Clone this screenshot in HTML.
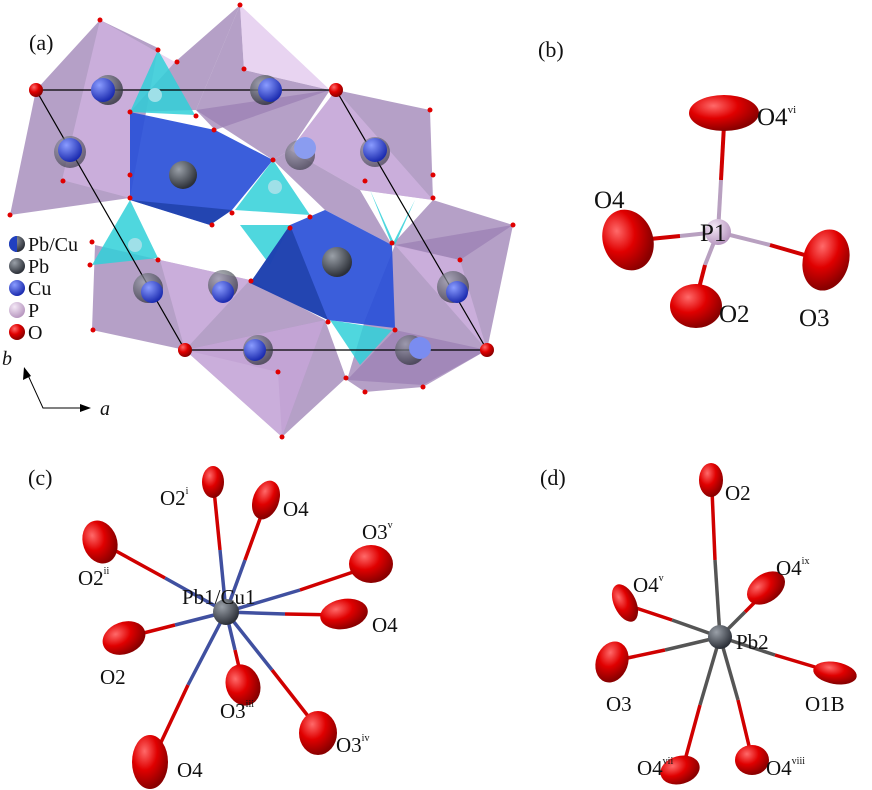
<!DOCTYPE html>
<html><head><meta charset="utf-8"><style>
body{margin:0;background:#fff}
svg{display:block}
text{font-family:"Liberation Serif",serif;fill:#111}
</style></head><body>
<svg width="872" height="790" viewBox="0 0 872 790" xmlns="http://www.w3.org/2000/svg">
<defs>
<radialGradient id="r" cx="35%" cy="30%" r="70%"><stop offset="0" stop-color="#ff6a6a"/><stop offset="0.5" stop-color="#e00000"/><stop offset="1" stop-color="#8a0000"/></radialGradient>
<radialGradient id="g" cx="35%" cy="30%" r="70%"><stop offset="0" stop-color="#9aa0a8"/><stop offset="1" stop-color="#2c3038"/></radialGradient>
<radialGradient id="bl" cx="35%" cy="30%" r="70%"><stop offset="0" stop-color="#8a9cff"/><stop offset="1" stop-color="#1c2cb0"/></radialGradient>
<radialGradient id="pp" cx="35%" cy="30%" r="70%"><stop offset="0" stop-color="#f4e8f6"/><stop offset="1" stop-color="#b898c0"/></radialGradient>
</defs>
<!-- panel a -->
<g stroke="none">
<g fill="#9c80b4" fill-opacity="0.75">
<polygon points="100,20 36,90 10,215 130,198 158,48"/>
<polygon points="240,5 196,110 215,130 330,90 244,70"/>
<polygon points="175,62 240,5 196,110 130,112"/>
<polygon points="196,110 273,160 290,150 330,90"/>
<polygon points="290,150 360,190 392,245 325,210 273,160"/>
<polygon points="336,90 430,110 433,200 360,190 290,150"/>
<polygon points="433,200 392,245 460,260 513,225"/>
<polygon points="160,260 95,245 92,330 185,350 282,437 325,320 250,280"/>
<polygon points="185,350 278,372 282,437 346,378 325,320"/>
<polygon points="395,245 513,225 487,350 423,385 347,380 365,320"/>
<polygon points="347,380 365,392 423,387 487,350 395,330"/>
</g>
<g fill="#d8b8e8" fill-opacity="0.6">
<polygon points="100,20 175,62 130,112 130,198 62,180"/>
<polygon points="240,5 330,90 244,70"/>
<polygon points="290,150 336,90 433,200 360,190"/>
<polygon points="160,260 250,280 185,350"/>
<polygon points="185,350 282,437 325,320"/>
<polygon points="395,245 487,350 460,260"/>
</g>
<g fill="#30d0d8" fill-opacity="0.85">
<polygon points="158,50 195,115 130,112"/>
<polygon points="273,160 310,215 235,210"/>
<polygon points="130,200 92,265 158,258"/>
<polygon points="240,225 290,225 270,265"/>
<polygon points="392,245 415,200 395,245 370,190"/>
<polygon points="330,320 392,330 360,365"/>
</g>
<g fill="#2a50d8" fill-opacity="0.92">
<polygon points="130,112 215,130 273,160 232,210 210,225 130,200"/>
<polygon points="290,225 325,210 392,245 395,328 328,320 250,283"/>
</g>
<g fill="#1a3aa0" fill-opacity="0.7">
<polygon points="130,200 232,210 210,225"/>
<polygon points="250,283 328,320 290,225"/>
</g>
</g>
<g stroke="#000" stroke-width="1.2" fill="none"><polygon points="36,90 336,90 487,350 185,350"/></g>
<g>
<circle cx="108" cy="90" r="15" fill="url(#g)" opacity="0.8"/><circle cx="103" cy="90" r="12" fill="url(#bl)"/>
<circle cx="265" cy="90" r="15" fill="url(#g)" opacity="0.8"/><circle cx="270" cy="90" r="12" fill="url(#bl)"/>
<circle cx="70" cy="152" r="16" fill="url(#g)" opacity="0.6"/><circle cx="70" cy="150" r="12" fill="url(#bl)"/>
<circle cx="183" cy="175" r="14" fill="url(#g)"/>
<circle cx="300" cy="155" r="15" fill="url(#g)" opacity="0.6"/><circle cx="305" cy="148" r="11" fill="#8a9cf0"/>
<circle cx="375" cy="152" r="15" fill="url(#g)" opacity="0.6"/><circle cx="375" cy="150" r="12" fill="url(#bl)"/>
<circle cx="155" cy="95" r="7" fill="#9fe0e8"/><circle cx="275" cy="187" r="7" fill="#9fe0e8"/><circle cx="135" cy="245" r="7" fill="#9fe0e8"/>
<circle cx="337" cy="262" r="15" fill="url(#g)"/>
<circle cx="148" cy="288" r="15" fill="url(#g)" opacity="0.7"/><circle cx="152" cy="292" r="11" fill="url(#bl)"/>
<circle cx="223" cy="285" r="15" fill="url(#g)" opacity="0.7"/><circle cx="223" cy="292" r="11" fill="url(#bl)"/>
<circle cx="453" cy="287" r="16" fill="url(#g)" opacity="0.7"/><circle cx="457" cy="292" r="11" fill="url(#bl)"/>
<circle cx="258" cy="350" r="15" fill="url(#g)" opacity="0.7"/><circle cx="255" cy="350" r="11" fill="url(#bl)"/>
<circle cx="410" cy="350" r="15" fill="url(#g)" opacity="0.7"/><circle cx="420" cy="348" r="11" fill="#7a8cf0"/>
</g>
<g fill="#e00000">
<circle cx="36" cy="90" r="7" fill="url(#r)"/><circle cx="336" cy="90" r="7" fill="url(#r)"/><circle cx="185" cy="350" r="7" fill="url(#r)"/><circle cx="487" cy="350" r="7" fill="url(#r)"/>
<circle cx="100" cy="20" r="2.5"/><circle cx="158" cy="50" r="2.5"/><circle cx="177" cy="62" r="2.5"/><circle cx="10" cy="215" r="2.5"/><circle cx="63" cy="181" r="2.5"/>
<circle cx="240" cy="5" r="2.5"/><circle cx="244" cy="69" r="2.5"/><circle cx="196" cy="116" r="2.5"/><circle cx="214" cy="130" r="2.5"/><circle cx="130" cy="112" r="2.5"/>
<circle cx="430" cy="110" r="2.5"/><circle cx="433" cy="175" r="2.5"/><circle cx="433" cy="198" r="2.5"/><circle cx="365" cy="181" r="2.5"/><circle cx="273" cy="160" r="2.5"/>
<circle cx="130" cy="175" r="2.5"/><circle cx="130" cy="198" r="2.5"/><circle cx="232" cy="213" r="2.5"/><circle cx="212" cy="225" r="2.5"/><circle cx="290" cy="228" r="2.5"/><circle cx="310" cy="217" r="2.5"/>
<circle cx="92" cy="242" r="2.5"/><circle cx="90" cy="265" r="2.5"/><circle cx="158" cy="260" r="2.5"/><circle cx="93" cy="330" r="2.5"/><circle cx="251" cy="281" r="2.5"/>
<circle cx="392" cy="243" r="2.5"/><circle cx="513" cy="225" r="2.5"/><circle cx="460" cy="260" r="2.5"/><circle cx="328" cy="322" r="2.5"/><circle cx="395" cy="330" r="2.5"/>
<circle cx="282" cy="437" r="2.5"/><circle cx="278" cy="372" r="2.5"/><circle cx="346" cy="378" r="2.5"/><circle cx="365" cy="392" r="2.5"/><circle cx="423" cy="387" r="2.5"/>
</g>
<text x="29" y="50" font-size="22">(a)</text>
<g font-size="20">
<circle cx="17" cy="244" r="8" fill="url(#g)"/><path d="M9,244 A8,8 0 0 0 17,252 L17,236 A8,8 0 0 0 9,244Z" fill="#2040c0"/><text x="28" y="251">Pb/Cu</text>
<circle cx="17" cy="266" r="8" fill="url(#g)"/><text x="28" y="273">Pb</text>
<circle cx="17" cy="288" r="8" fill="url(#bl)"/><text x="28" y="295">Cu</text>
<circle cx="17" cy="310" r="8" fill="url(#pp)"/><text x="28" y="317">P</text>
<circle cx="17" cy="332" r="8" fill="url(#r)"/><text x="28" y="339">O</text>
<text x="2" y="365" font-style="italic">b</text><text x="100" y="415" font-style="italic">a</text>
</g>
<g stroke="#000" stroke-width="1" fill="none"><polyline points="27,373 43,408 85,408"/></g>
<polygon points="24,367 23,380 31,376" fill="#000"/><polygon points="91,408 80,404 80,412" fill="#000"/>

<!-- panel b -->
<text x="538" y="57" font-size="22">(b)</text>
<g stroke-width="4">
<line x1="718" y1="232" x2="721" y2="180" stroke="#b8a0c0"/><line x1="721" y1="180" x2="724" y2="125" stroke="#d00000"/>
<line x1="718" y1="232" x2="680" y2="236" stroke="#b8a0c0"/><line x1="680" y1="236" x2="640" y2="240" stroke="#d00000"/>
<line x1="718" y1="232" x2="770" y2="245" stroke="#b8a0c0"/><line x1="770" y1="245" x2="815" y2="258" stroke="#d00000"/>
<line x1="718" y1="232" x2="705" y2="265" stroke="#b8a0c0"/><line x1="705" y1="265" x2="698" y2="292" stroke="#d00000"/>
</g>
<ellipse cx="724" cy="113" rx="35" ry="18" fill="url(#r)"/>
<ellipse cx="628" cy="240" rx="25" ry="31" transform="rotate(-20 628 240)" fill="url(#r)"/>
<ellipse cx="826" cy="260" rx="23" ry="31" transform="rotate(15 826 260)" fill="url(#r)"/>
<ellipse cx="696" cy="306" rx="26" ry="22" fill="url(#r)"/>
<circle cx="718" cy="232" r="13" fill="url(#pp)"/>
<g font-size="25">
<text x="757" y="125">O4<tspan font-size="11" dy="-12">vi</tspan></text>
<text x="594" y="208">O4</text><text x="700" y="241">P1</text>
<text x="719" y="322">O2</text><text x="799" y="326">O3</text>
</g>

<!-- panel c -->
<text x="28" y="485" font-size="22">(c)</text>
<g stroke-width="3.5">
<line x1="226" y1="612" x2="220" y2="550" stroke="#4050a0"/><line x1="220" y1="550" x2="214" y2="490" stroke="#d00000"/>
<line x1="226" y1="612" x2="245" y2="560" stroke="#4050a0"/><line x1="245" y1="560" x2="265" y2="505" stroke="#d00000"/>
<line x1="226" y1="612" x2="300" y2="590" stroke="#4050a0"/><line x1="300" y1="590" x2="365" y2="568" stroke="#d00000"/>
<line x1="226" y1="612" x2="285" y2="614" stroke="#4050a0"/><line x1="285" y1="614" x2="340" y2="615" stroke="#d00000"/>
<line x1="226" y1="612" x2="272" y2="670" stroke="#4050a0"/><line x1="272" y1="670" x2="315" y2="725" stroke="#d00000"/>
<line x1="226" y1="612" x2="235" y2="650" stroke="#4050a0"/><line x1="235" y1="650" x2="242" y2="680" stroke="#d00000"/>
<line x1="226" y1="612" x2="188" y2="685" stroke="#4050a0"/><line x1="188" y1="685" x2="155" y2="755" stroke="#d00000"/>
<line x1="226" y1="612" x2="175" y2="625" stroke="#4050a0"/><line x1="175" y1="625" x2="128" y2="637" stroke="#d00000"/>
<line x1="226" y1="612" x2="165" y2="578" stroke="#4050a0"/><line x1="165" y1="578" x2="105" y2="545" stroke="#d00000"/>
</g>
<ellipse cx="213" cy="482" rx="11" ry="16" fill="url(#r)"/>
<ellipse cx="266" cy="500" rx="13" ry="20" transform="rotate(20 266 500)" fill="url(#r)"/>
<ellipse cx="371" cy="564" rx="22" ry="19" fill="url(#r)"/>
<ellipse cx="344" cy="614" rx="24" ry="15" transform="rotate(-10 344 614)" fill="url(#r)"/>
<ellipse cx="318" cy="733" rx="19" ry="22" fill="url(#r)"/>
<ellipse cx="243" cy="685" rx="17" ry="21" transform="rotate(-20 243 685)" fill="url(#r)"/>
<ellipse cx="150" cy="762" rx="18" ry="27" fill="url(#r)"/>
<ellipse cx="124" cy="638" rx="22" ry="16" transform="rotate(-20 124 638)" fill="url(#r)"/>
<ellipse cx="100" cy="542" rx="17" ry="22" transform="rotate(-20 100 542)" fill="url(#r)"/>
<circle cx="226" cy="612" r="13" fill="url(#g)"/>
<g font-size="21">
<text x="160" y="505">O2<tspan font-size="10" dy="-11">i</tspan></text>
<text x="283" y="516">O4</text>
<text x="362" y="539">O3<tspan font-size="10" dy="-11">v</tspan></text>
<text x="372" y="632">O4</text>
<text x="336" y="752">O3<tspan font-size="10" dy="-11">iv</tspan></text>
<text x="220" y="718">O3<tspan font-size="10" dy="-11">iii</tspan></text>
<text x="177" y="777">O4</text>
<text x="100" y="684">O2</text>
<text x="78" y="585">O2<tspan font-size="10" dy="-11">ii</tspan></text>
<text x="182" y="604">Pb1/Cu1</text>
</g>

<!-- panel d -->
<text x="540" y="485" font-size="22">(d)</text>
<g stroke-width="3.5">
<line x1="720" y1="637" x2="715" y2="560" stroke="#555"/><line x1="715" y1="560" x2="712" y2="490" stroke="#d00000"/>
<line x1="720" y1="637" x2="745" y2="612" stroke="#555"/><line x1="745" y1="612" x2="762" y2="595" stroke="#d00000"/>
<line x1="720" y1="637" x2="672" y2="620" stroke="#555"/><line x1="672" y1="620" x2="630" y2="606" stroke="#d00000"/>
<line x1="720" y1="637" x2="665" y2="650" stroke="#555"/><line x1="665" y1="650" x2="618" y2="660" stroke="#d00000"/>
<line x1="720" y1="637" x2="775" y2="655" stroke="#555"/><line x1="775" y1="655" x2="825" y2="670" stroke="#d00000"/>
<line x1="720" y1="637" x2="738" y2="700" stroke="#555"/><line x1="738" y1="700" x2="750" y2="750" stroke="#d00000"/>
<line x1="720" y1="637" x2="700" y2="705" stroke="#555"/><line x1="700" y1="705" x2="685" y2="760" stroke="#d00000"/>
</g>
<ellipse cx="711" cy="480" rx="12" ry="17" fill="url(#r)"/>
<ellipse cx="766" cy="588" rx="21" ry="14" transform="rotate(-35 766 588)" fill="url(#r)"/>
<ellipse cx="625" cy="603" rx="11" ry="20" transform="rotate(-25 625 603)" fill="url(#r)"/>
<ellipse cx="612" cy="662" rx="16" ry="21" transform="rotate(20 612 662)" fill="url(#r)"/>
<ellipse cx="835" cy="673" rx="22" ry="11" transform="rotate(10 835 673)" fill="url(#r)"/>
<ellipse cx="752" cy="760" rx="17" ry="15" fill="url(#r)"/>
<ellipse cx="680" cy="770" rx="20" ry="14" transform="rotate(-15 680 770)" fill="url(#r)"/>
<circle cx="720" cy="637" r="12" fill="url(#g)"/>
<g font-size="21">
<text x="725" y="500">O2</text>
<text x="776" y="575">O4<tspan font-size="10" dy="-11">ix</tspan></text>
<text x="633" y="592">O4<tspan font-size="10" dy="-11">v</tspan></text>
<text x="736" y="649">Pb2</text>
<text x="606" y="711">O3</text>
<text x="805" y="711">O1B</text>
<text x="766" y="775">O4<tspan font-size="10" dy="-11">viii</tspan></text>
<text x="637" y="775">O4<tspan font-size="10" dy="-11">vii</tspan></text>
</g>
</svg>
</body></html>
